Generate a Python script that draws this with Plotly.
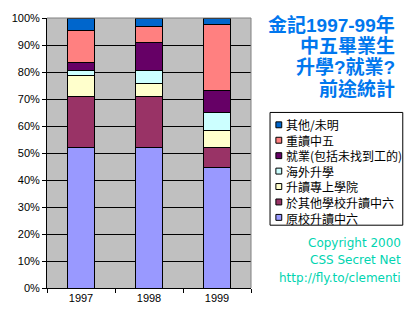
import plotly.graph_objects as go

years = ["1997", "1998", "1999"]
series_names = ["原校升讀中六", "於其他學校升讀中六", "升讀專上學院", "海外升學",
                "就業(包括未找到工的)", "重讀中五", "其他/未明"]
values = {
    "原校升讀中六": [52.1, 52.1, 44.7],
    "於其他學校升讀中六": [19.0, 19.0, 7.4],
    "升讀專上學院": [7.5, 4.8, 6.3],
    "海外升學": [1.8, 4.5, 6.7],
    "就業(包括未找到工的)": [3.2, 10.4, 7.9],
    "重讀中五": [11.7, 6.1, 24.5],
    "其他/未明": [4.7, 3.1, 2.5],
}
colors = ["#9999FF", "#993366", "#FFFFCC", "#CCFFFF", "#660066", "#FF8080", "#0066CC"]
y_ticks = [0, 10, 20, 30, 40, 50, 60, 70, 80, 90, 100]
title_lines = ["金記1997-99年", "中五畢業生", "升學?就業?", "前途統計"]
copy_lines = ["Copyright 2000", "CSS Secret Net", "http://fly.to/clementi"]

W, H = 420, 320
ML, MR, MT, MB = 42, 169, 15, 32
PW = W - ML - MR
PH = H - MT - MB


def px(x):
    return (x - ML) / PW


def py(y):
    return (H - MB - y) / PH


fig = go.Figure()
for name, col in zip(series_names, colors):
    fig.add_trace(go.Bar(
        x=years, y=values[name], name=name, width=0.4,
        marker=dict(color=col, line=dict(color="black", width=1)),
    ))

fig.update_layout(
    barmode="stack",
    width=W, height=H,
    margin=dict(l=ML, r=MR, t=MT, b=MB),
    paper_bgcolor="white",
    plot_bgcolor="#C0C0C0",
    font=dict(family="Liberation Sans, Arial", size=11, color="black"),
    showlegend=False,
)
fig.update_yaxes(
    range=[0, 100], tickvals=y_ticks, ticktext=[f"{v}%" for v in y_ticks],
    showgrid=True, gridcolor="black", gridwidth=1,
    showline=True, linecolor="black", linewidth=1,
    ticks="outside", ticklen=4, tickcolor="black", zeroline=False,
)
fig.update_xaxes(
    showline=True, linecolor="black", linewidth=1,
    ticks="outside", ticklen=4, tickcolor="black", tickson="boundaries",
    showgrid=False,
)

# grey plot-area border on top and right
fig.add_shape(type="line", xref="paper", yref="paper", x0=0, x1=1, y0=1, y1=1,
              line=dict(color="#808080", width=1), layer="above")
fig.add_shape(type="line", xref="paper", yref="paper", x0=1, x1=1, y0=0, y1=1,
              line=dict(color="#808080", width=1), layer="above")

# Legend (drawn manually to match the compact original spacing)
fig.add_shape(type="rect", xref="paper", yref="paper",
              x0=px(270.5), x1=px(406.5), y0=py(110.5), y1=py(224.5),
              line=dict(color="black", width=1), fillcolor="white")
legend_names = list(reversed(series_names))
legend_colors = list(reversed(colors))
row_step = 15.6
first_row = 123
for i, col in enumerate(legend_colors):
    cy = first_row + row_step * i
    fig.add_shape(type="rect", xref="paper", yref="paper",
                  x0=px(276.5), x1=px(282.5), y0=py(cy - 3), y1=py(cy + 3),
                  line=dict(color="black", width=1), fillcolor=col)
fig.add_annotation(
    text="<br>".join(legend_names), align="left",
    x=px(284.5), y=py(first_row + row_step * 3), xref="paper", yref="paper",
    showarrow=False, xanchor="left", yanchor="middle",
    font=dict(family="Noto Sans CJK TC", size=12, color="black"),
)

title_y = [22, 44, 65.5, 87]
for t, yy in zip(title_lines, title_y):
    fig.add_annotation(
        text=f"<b>{t}</b>", x=px(401), y=py(yy), xref="paper", yref="paper",
        showarrow=False, xanchor="right", yanchor="middle",
        font=dict(family="Liberation Sans, Noto Sans CJK TC", size=19, color="#0077EE"),
    )

copy_y = [242, 260, 278]
for t, yy in zip(copy_lines, copy_y):
    fig.add_annotation(
        text=t, x=px(407), y=py(yy), xref="paper", yref="paper",
        showarrow=False, xanchor="right", yanchor="middle",
        font=dict(family="DejaVu Sans", size=12, color="#00D4B0"),
    )

fig.write_html("out.html")
